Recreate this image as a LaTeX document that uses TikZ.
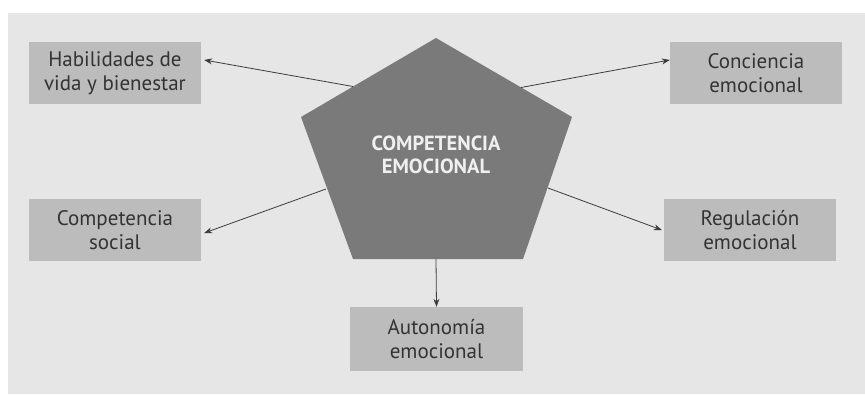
\documentclass[tikz,border=0pt]{standalone}
\usepackage{fontspec}
\setmainfont{PT Sans}
\usetikzlibrary{arrows.meta,calc}
\definecolor{bgcol}{HTML}{E6E6E6}
\definecolor{boxcol}{HTML}{BCBCBC}
\definecolor{pentcol}{HTML}{7A7A7A}
\definecolor{txtcol}{HTML}{333333}
\definecolor{arrcol}{HTML}{3C3C3C}
\tikzset{
  box/.style={fill=boxcol, draw=none, minimum width=172pt, minimum height=62pt,
    inner sep=0pt, align=center, text=txtcol, font=\fontsize{21}{24.5}\selectfont},
  conn/.style={draw=arrcol, line width=0.8pt, -{Stealth[length=8pt,width=6pt]}}
}
\begin{document}
\begin{tikzpicture}[x=1pt,y=-1pt]
\useasboundingbox (0,0) rectangle (865,394);
\fill[white] (0,0) rectangle (865,394);
\fill[bgcol] (8,13) rectangle (865,394);
% pentagon
\coordinate (ptop) at (436,38);
\coordinate (pleft) at (301,117);
\coordinate (pright) at (572,117);
\coordinate (pbl) at (353,259);
\coordinate (pbr) at (523,259);
\fill[pentcol] (ptop) -- (pright) -- (pbr) -- (pbl) -- (pleft) -- cycle;
\node[text=white!94!black, align=center, font=\bfseries\fontsize{20.5}{23.5}\selectfont] (core) at (436,155) {COMPETENCIA\\EMOCIONAL};
% boxes
\node[box] (hab) at (115,73) {Habilidades de\\vida y bienestar};
\node[box] (con) at (756,73) {Conciencia\\emocional};
\node[box] (soc) at (115,230) {Competencia\\social};
\node[box] (reg) at (750,230) {Regulación\\emocional};
\node[box, minimum width=173pt, minimum height=64pt] (aut) at (436.5,339) {Autonomía\\emocional};
% start points on pentagon edges
\coordinate (s1) at (353,86.5);
\coordinate (s2) at (521,87.5);
\coordinate (s3) at (326,189);
\coordinate (s4) at (548,188);
\coordinate (s5) at (436,259);
% connectors
\draw[conn] (s1) -- ([shift={(3,-13)}]hab.east);
\draw[conn] (s2) -- ([shift={(0,-13)}]con.west);
\draw[conn] (s3) -- ([shift={(3,3)}]soc.east);
\draw[conn] (s4) -- ([shift={(-2,0)}]reg.west);
\draw[conn] (s5) -- (aut.north);
\end{tikzpicture}
\end{document}
